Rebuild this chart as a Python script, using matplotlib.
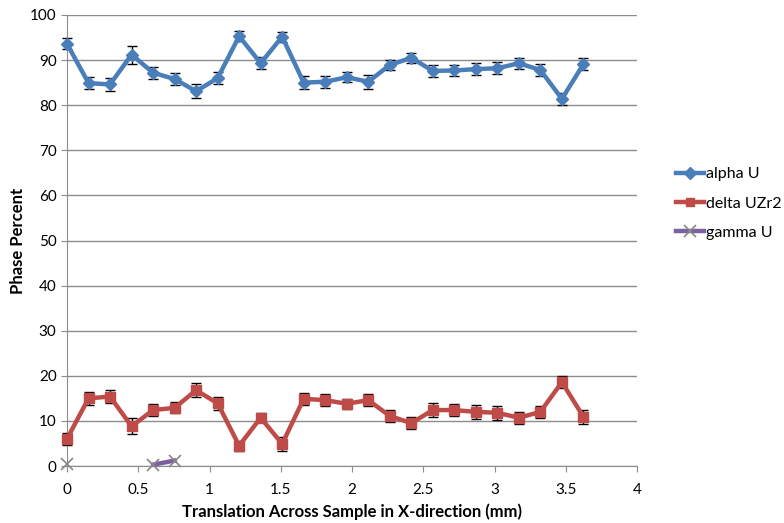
import numpy as np
import matplotlib
matplotlib.use('Agg')
import matplotlib.pyplot as plt
from matplotlib.lines import Line2D

plt.rcParams['font.family'] = ['Lato', 'DejaVu Sans']

# positions of the scan points (mm)
x_mm = [0.0, 0.151, 0.302, 0.453, 0.604, 0.755, 0.906, 1.057, 1.208, 1.359,
        1.510, 1.661, 1.812, 1.963, 2.114, 2.265, 2.416, 2.567, 2.718, 2.869,
        3.020, 3.171, 3.322, 3.473, 3.624]

alpha_u = [93.6, 84.9, 84.6, 91.2, 87.2, 85.8, 83.1, 86.0, 95.3, 89.3,
           95.2, 85.0, 85.2, 86.2, 85.2, 88.9, 90.5, 87.6, 87.7, 88.0,
           88.2, 89.3, 87.8, 81.4, 89.1]
alpha_err = [1.2, 1.4, 1.4, 2.0, 1.3, 1.3, 1.5, 1.3, 1.1, 1.3,
             1.1, 1.5, 1.3, 1.1, 1.5, 1.1, 1.1, 1.4, 1.3, 1.4,
             1.3, 1.2, 1.4, 1.4, 1.3]

delta_uzr2 = [6.0, 15.0, 15.4, 8.8, 12.4, 12.9, 16.8, 13.9, 4.5, 10.7,
              4.9, 14.9, 14.6, 13.8, 14.6, 11.1, 9.5, 12.4, 12.4, 12.0,
              11.8, 10.7, 12.0, 18.6, 10.9]
delta_err = [1.4, 1.4, 1.4, 1.8, 1.3, 1.2, 1.6, 1.4, 1.1, 1.0,
             1.5, 1.3, 1.3, 1.1, 1.3, 1.3, 1.3, 1.5, 1.3, 1.5,
             1.5, 1.3, 1.3, 1.3, 1.5]

gamma_u = [0.5, np.nan, np.nan, np.nan, 0.3, 1.2] + [np.nan] * 19

fig = plt.figure(figsize=(7.84, 5.23), dpi=100)
ax = fig.add_axes([67 / 784, 1 - 466 / 523, 570 / 784, 451 / 523])

blue = '#4a7ebb'
red = '#be4b48'
purple = '#7d60a0'

for y, err, col, mk in [(alpha_u, alpha_err, blue, 'D'),
                        (delta_uzr2, delta_err, red, 's')]:
    l, caps, bars = ax.errorbar(x_mm, y, yerr=err, color=col, lw=3.2,
                                marker=mk, ms=6.5, ecolor='black',
                                elinewidth=1, capsize=3.5, capthick=1,
                                zorder=3)
    l.set_clip_on(False)
    for c in caps:
        c.set_clip_on(False)
    for b in bars:
        b.set_clip_on(False)
ax.plot(x_mm, gamma_u, color=purple, lw=3.2, marker='x', ms=9, mec='#888888',
        mew=1.2, zorder=3, clip_on=False)

ax.set_xlim(0, 4)
ax.set_ylim(0, 100)
ax.set_xticks(np.arange(0, 4.01, 0.5))
ax.set_xticklabels(['0', '0.5', '1', '1.5', '2', '2.5', '3', '3.5', '4'])
ax.set_yticks(range(0, 101, 10))
ax.yaxis.grid(True, color='#8c8c8c', lw=1)
ax.set_axisbelow(True)
for s in ['top', 'right']:
    ax.spines[s].set_visible(False)
for s in ['left', 'bottom']:
    ax.spines[s].set_color('#8c8c8c')
ax.tick_params(axis='both', colors='#8c8c8c', labelcolor='black',
               labelsize=11, length=4)
ax.tick_params(axis='x', pad=8)

ax.set_xlabel('Translation Across Sample in X-direction (mm)', fontsize=12,
              fontweight='bold', labelpad=5)
ax.set_ylabel('Phase Percent', fontsize=12, fontweight='bold')
ax.yaxis.set_label_coords(-0.072, 0.5)

handles = [
    Line2D([], [], color=blue, lw=3.2, marker='D', ms=6),
    Line2D([], [], color=red, lw=3.2, marker='s', ms=6),
    Line2D([], [], color=purple, lw=3.2, marker='x', ms=9, mec='#888888', mew=1.2),
]
fig.legend(handles, ['alpha U', 'delta UZr2', 'gamma U'], loc='upper left',
           bbox_to_anchor=(676 / 784, 1 - 167 / 523), frameon=False,
           borderpad=0, borderaxespad=0,
           handlelength=1.75, labelspacing=0.95, handletextpad=0.15,
           prop={'family': ['Lato', 'DejaVu Sans'], 'size': 11.5})

fig.savefig('out.png', dpi=100)
